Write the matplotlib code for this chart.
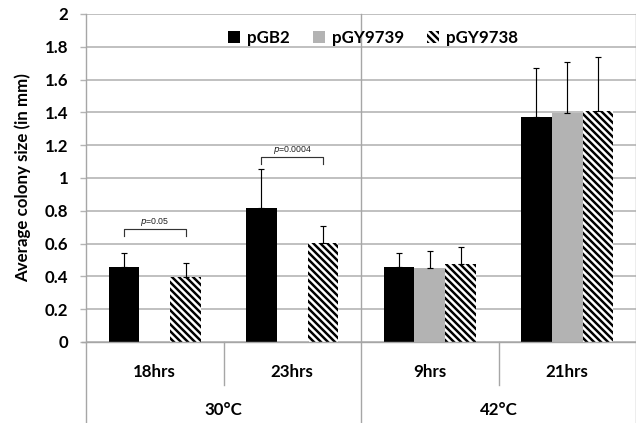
import matplotlib
matplotlib.use("Agg")
import matplotlib.pyplot as plt
from matplotlib.patches import Patch
import numpy as np

# ---- data ----
groups = ["30°C", "42°C"]
categories = ["18hrs", "23hrs", "9hrs", "21hrs"]
series = ["pGB2", "pGY9739", "pGY9738"]
pGB2 = [0.455, 0.815, 0.455, 1.374]
pGB2_err = [0.088, 0.238, 0.088, 0.295]
pGY9739 = [np.nan, np.nan, 0.449, 1.394]
pGY9739_err = [np.nan, np.nan, 0.108, 0.313]
pGY9738 = [0.396, 0.602, 0.478, 1.407]
pGY9738_err = [0.088, 0.103, 0.099, 0.333]
pvals = ["0.05", "0.0004"]
yticks = [0, 0.2, 0.4, 0.6, 0.8, 1, 1.2, 1.4, 1.6, 1.8, 2]
ytick_labels = ["0", "0.2", "0.4", "0.6", "0.8", "1", "1.2", "1.4", "1.6", "1.8", "2"]

DPI = 84
W, H = 636, 423
BS = chr(92)
HATCH = BS * 4
FS = 14.5
plt.rcParams["hatch.linewidth"] = 2.1
plt.rcParams["font.family"] = ["Lato", "DejaVu Sans"]

fig = plt.figure(figsize=(W / DPI, H / DPI), dpi=DPI)
ax = fig.add_axes([86 / W, 1 - 342 / H, 550 / W, 328 / H])

x = np.arange(len(categories)) + 0.5
bw = 0.222
off = 0.224
grid_c = "#b4b4b4"

ax.set_ylim(0, 2)
ax.set_xlim(0, 4)
ax.set_yticks(yticks)
ax.set_yticklabels(ytick_labels, fontsize=FS, fontweight="bold")
ax.yaxis.grid(True, color=grid_c, lw=1.4)
ax.set_axisbelow(True)
ax.tick_params(axis="y", length=5, color=grid_c, width=1.2, pad=10)
ax.tick_params(axis="x", length=0, labelbottom=False)
for s in ["top", "right", "left", "bottom"]:
    ax.spines[s].set_visible(False)

colors = ["black", "#b3b3b3", "white"]
vals = [pGB2, pGY9739, pGY9738]
errs = [pGB2_err, pGY9739_err, pGY9738_err]
for i, (v, e, c) in enumerate(zip(vals, errs, colors)):
    xi = x + (i - 1) * off
    v = np.array(v, dtype=float)
    e = np.array(e, dtype=float)
    m = ~np.isnan(v)
    if i == 2:
        ax.bar(xi[m], v[m], bw, color="white", edgecolor="black", hatch=HATCH, lw=0, zorder=2)
    else:
        ax.bar(xi[m], v[m], bw, color=c, lw=0, zorder=2)
    ax.errorbar(xi[m], v[m], yerr=[np.zeros(m.sum()), e[m]], fmt="none",
                ecolor="black", elinewidth=1.0, capsize=2.6, capthick=1.0, zorder=3)

# p-value brackets
br_y = [0.687, 1.126]
br_drop = 0.04
for k, (p, yb) in enumerate(zip(pvals, br_y)):
    x0 = x[k] - off
    x1 = x[k] + off
    ax.plot([x0, x0, x1, x1], [yb - br_drop, yb, yb, yb - br_drop], color="#333333", lw=1.0, zorder=3)
    ax.text((x0 + x1) / 2, yb + 0.008, r"$\it{p}$" + "=" + p, ha="center", va="bottom",
            fontsize=7.5, family="Liberation Sans", color="#222222")

# axes lines and category separators
axc = "#a6a6a6"
ax.plot([0, 1], [0, 0], transform=ax.transAxes, color=axc, lw=1.2, clip_on=False)
ax.plot([-0.008, 0], [0, 0], transform=ax.transAxes, color=axc, lw=1.2, clip_on=False)
trans = ax.get_xaxis_transform()
for b in [0, 2, 4]:
    ax.plot([b, b], [1, -0.25], transform=trans, color=axc, lw=1.2, clip_on=False)
for b in [1, 3]:
    ax.plot([b, b], [0, -0.131], transform=trans, color=axc, lw=1.2, clip_on=False)
for xi, lab in zip(x, categories):
    ax.text(xi, -0.0915, lab, transform=trans, ha="center", va="center", fontsize=FS, fontweight="bold")
for gi, g in enumerate(groups):
    ax.text(2 * gi + 1, -0.207, g, transform=trans, ha="center", va="center", fontsize=FS, fontweight="bold")

ax.set_ylabel("Average colony size (in mm)", fontsize=FS, fontweight="bold", labelpad=12)

handles = [Patch(facecolor="black", lw=0),
           Patch(facecolor="#b3b3b3", lw=0),
           Patch(facecolor="white", edgecolor="black", hatch=HATCH, lw=0)]
leg = fig.legend(handles, series, loc="center", bbox_to_anchor=(373 / W, 1 - 38 / H), ncol=3,
                 frameon=False, prop={"weight": "bold", "size": FS},
                 handlelength=0.7, handleheight=0.7, handletextpad=0.4, columnspacing=1.4)

fig.savefig("out.png", dpi=DPI)
